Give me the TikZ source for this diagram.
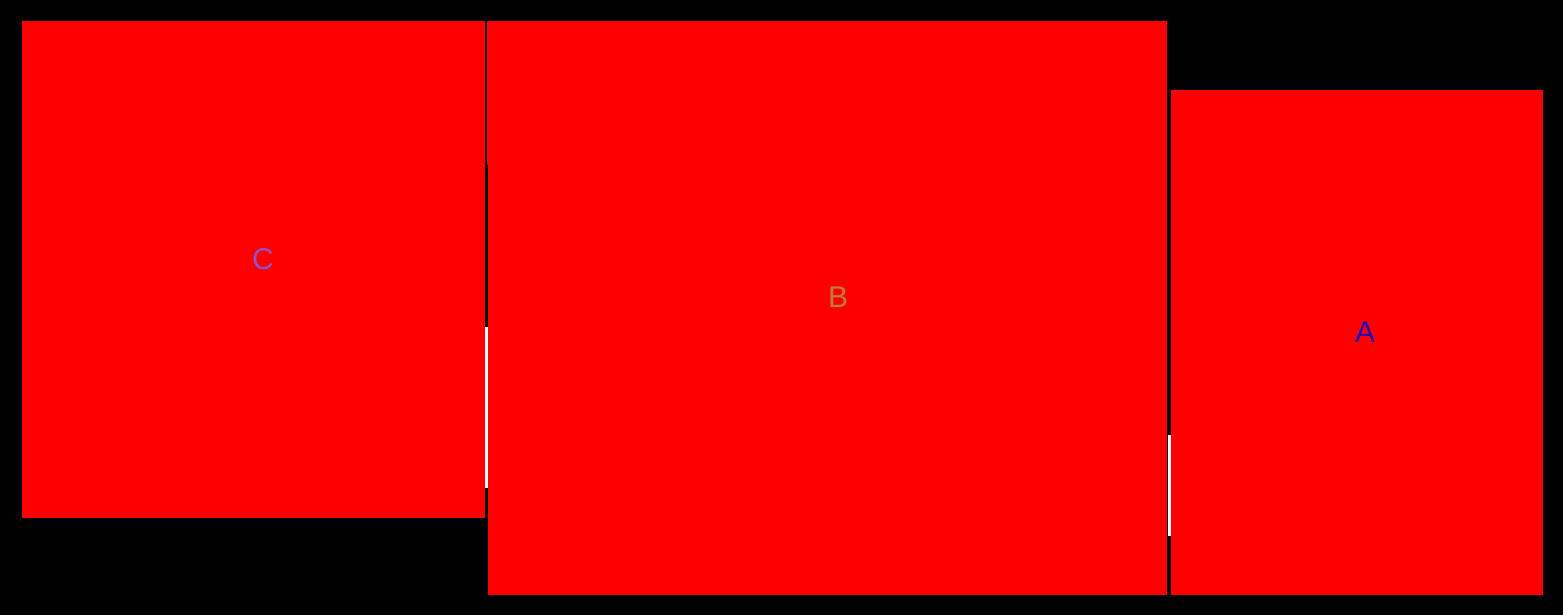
\documentclass[tikz,border=0pt]{standalone}
\usepackage{fontspec}
\setmainfont{Liberation Sans}
\definecolor{lblC}{RGB}{150,80,200}
\definecolor{lblB}{RGB}{190,125,60}
\definecolor{lblA}{RGB}{30,0,190}
\begin{document}
\begin{tikzpicture}[x=1pt,y=-1pt,
  box/.style={fill=red, draw=none, inner sep=0pt, outer sep=0pt, anchor=north west},
  lbl/.style={font=\fontsize{30}{30}\selectfont, inner sep=0pt},
  seam/.style={fill=white, draw=none}]
\fill[black] (0,0) rectangle (1563,615);
\useasboundingbox (0,0) rectangle (1563,615);
\node[box, minimum width=463pt, minimum height=497pt] (C) at (22,21) {};
\node[box, minimum width=679pt, minimum height=574pt] (B) at (488,21) {};
\node[box, minimum width=372pt, minimum height=505pt] (A) at (1171,90) {};
\fill[red] (487,21) rectangle (488,165);
\node[lbl, text=lblC] (lC) at (263,259) {C};
\node[lbl, text=lblB] (lB) at (838,297) {B};
\node[lbl, text=lblA] (lA) at (1365,332) {A};
\fill[seam] (485,327) rectangle (488,488);
\fill[seam] (1168,435) rectangle (1171,536);
\end{tikzpicture}
\end{document}
